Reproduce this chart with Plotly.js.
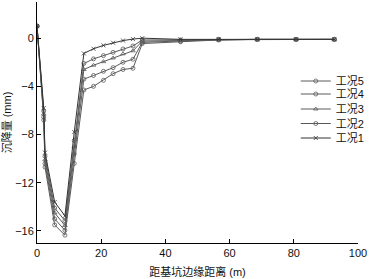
<!DOCTYPE html>
<html><head><meta charset="utf-8">
<script src="https://cdn.plot.ly/plotly-3.0.1.min.js"></script>
<style>html,body{margin:0;padding:0;background:#fff;}#c{width:372px;height:279px;}</style>
</head><body><div id="c"></div>
<script>
const xs = [0, 2.1, 2.5, 5.5, 8.7, 11.6, 14.6, 17.6, 20.7, 23.7, 26.8, 29.9, 32.8, 44.7, 56.6, 68.6, 80.7, 92.6];
const s1 = [1.0, -5.8, -9.5, -13.6, -14.75, -7.8, -1.27, -0.88, -0.6, -0.38, -0.2, -0.08, 0, -0.1, -0.1, -0.1, -0.1, -0.1];
const s2 = [1.0, -6.05, -9.8, -14.1, -15.15, -8.5, -2.1, -1.72, -1.45, -1.18, -0.9, -0.65, -0.15, -0.15, -0.1, -0.1, -0.1, -0.1];
const s3 = [1.0, -6.3, -10.1, -14.5, -15.55, -9.0, -2.6, -2.25, -1.95, -1.65, -1.3, -1.05, -0.25, -0.2, -0.12, -0.1, -0.1, -0.1];
const s4 = [1.0, -6.55, -10.4, -15.0, -15.95, -9.6, -3.4, -3.1, -2.75, -2.45, -2.0, -1.75, -0.35, -0.25, -0.12, -0.1, -0.1, -0.1];
const s5 = [1.0, -6.8, -10.7, -15.5, -16.35, -10.4, -4.3, -4.0, -3.5, -2.95, -2.6, -2.5, -0.45, -0.3, -0.15, -0.1, -0.1, -0.1];
const names = ['工况5', '工况4', '工况3', '工况2', '工况1'];
const series = [s5, s4, s3, s2, s1];
const symbols = ['circle-open', 'circle-open', 'triangle-up-open', 'circle-open', 'x-thin-open'];
const colors = ['#5a5a5a', '#5a5a5a', '#5a5a5a', '#5a5a5a', '#333'];
const legendIds = ['legend', 'legend2', 'legend3', 'legend4', 'legend5'];
const legendY = [81, 94, 109, 123.5, 138];   // pixel rows of the legend entries

const cjk = '"Liberation Sans", "Noto Sans CJK SC", sans-serif';
const traces = series.map((s, i) => ({
  x: xs, y: s, name: names[i], type: 'scatter', mode: 'lines+markers',
  legend: legendIds[i],
  line: {color: colors[i], width: 1},
  marker: {symbol: symbols[i], size: 4, color: colors[i], line: {width: 0.8, color: colors[i]}}
}));

const M = {l: 37, r: 10, t: 2, b: 36};
const plotH = 279 - M.t - M.b;
const plotW = 372 - M.l - M.r;
const layout = {
  width: 372, height: 279,
  margin: M,
  paper_bgcolor: '#fff', plot_bgcolor: '#fff',
  font: {family: cjk, size: 11, color: '#111'},
  showlegend: true,
  xaxis: {range: [0, 100], dtick: 20, ticks: 'inside', ticklen: 4, tickcolor: '#000',
          showline: true, linecolor: '#000', linewidth: 1, showgrid: false, zeroline: false,
          tickfont: {size: 11}, title: {text: '距基坑边缘距离 (m)', font: {size: 11}, standoff: 10}},
  yaxis: {range: [-17, 3], tickvals: [-16, -12, -8, -4, 0], ticks: 'inside', ticklen: 4, tickcolor: '#000',
          showline: true, linecolor: '#000', linewidth: 1, showgrid: false, zeroline: false,
          tickfont: {size: 11}, title: {text: '沉降量 (mm)', font: {size: 11}, standoff: 6}}
};
legendIds.forEach((id, i) => {
  layout[id] = {x: (299 - M.l) / plotW, y: (279 - M.b - legendY[i]) / plotH,
                xanchor: 'left', yanchor: 'middle', bgcolor: 'rgba(0,0,0,0)',
                font: {size: 11, family: cjk}, itemwidth: 30};
});
Plotly.newPlot('c', traces, layout, {staticPlot: true});
</script></body></html>
